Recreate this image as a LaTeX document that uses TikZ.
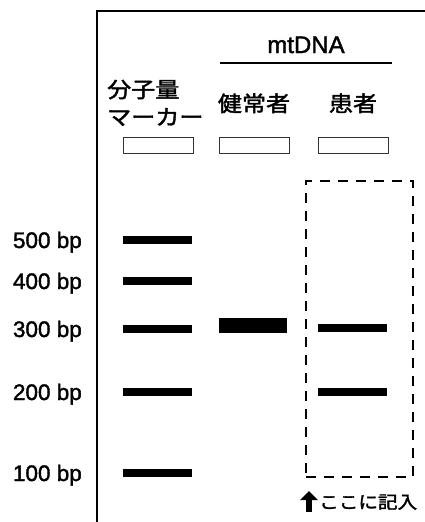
\documentclass[tikz,border=0pt]{standalone}
\usepackage{fontspec}
\setmainfont{Liberation Sans}[BoldFont={Liberation Sans},BoldFeatures={FakeBold=1.6}]
\newfontfamily\jp{Noto Sans CJK JP}[FakeStretch=1.12,BoldFont={Noto Sans CJK JP},BoldFeatures={FakeBold=1.8}]
\usetikzlibrary{arrows.meta}
\begin{document}
\begin{tikzpicture}[x=1pt,y=-1pt,
  lbl/.style={anchor=base east,inner sep=0pt,font=\bfseries\fontsize{22.5}{26}\selectfont},
  jlbl/.style={anchor=base,inner sep=0pt,font=\jp\bfseries\fontsize{21.5}{26}\selectfont},
  well/.style={draw=black!80,line width=1pt,minimum width=70pt,minimum height=16pt,inner sep=0pt,anchor=north west},
  band/.style={fill=black,minimum width=69pt,minimum height=8pt,inner sep=0pt,anchor=west},
  frameline/.style={line width=1.2pt},
]
\useasboundingbox (0,0) rectangle (425,522);
% frame
\coordinate (fb) at (97,522);
\coordinate (ft) at (97,11);
\coordinate (fr) at (425,11);
\draw[frameline] (fb) -- (ft) -- (fr);
% mtDNA header
\node[anchor=base,inner sep=0pt,font=\bfseries\fontsize{24}{28}\selectfont] (mt) at (306,53) {mtDNA};
\coordinate (ul) at (220,63);
\coordinate (ur) at (392,63);
\draw[line width=1.6pt] (ul) -- (ur);
% column headers
\node[jlbl,anchor=base west] (m1) at (107,97.5) {分子量};
\node[jlbl,anchor=base west] (m2) at (107,125) {マーカー};
\node[jlbl] (h) at (254,111.5) {健常者};
\node[jlbl] (p) at (353,111.5) {患者};
% wells
\node[well] (w1) at (123,137) {};
\node[well] (w2) at (219,137) {};
\node[well] (w3) at (318,137) {};
% marker bands and labels
\node[band] (b500) at (123,240) {};
\node[band] (b400) at (123,281) {};
\node[band] (b300) at (123,329) {};
\node[band] (b200) at (123,392) {};
\node[band] (b100) at (123,473) {};
\node[lbl] (l500) at (82,248) {500 bp};
\node[lbl] (l400) at (82,289) {400 bp};
\node[lbl] (l300) at (82,337) {300 bp};
\node[lbl] (l200) at (82,400) {200 bp};
\node[lbl] (l100) at (82,481) {100 bp};
% healthy band
\node[band,minimum width=68pt,minimum height=15pt] (hb) at (219,325.5) {};
% patient bands
\node[band] (pb1) at (318,328) {};
\node[band] (pb2) at (318,392) {};
% answer box
\node[draw,line width=2pt,dash pattern=on 10pt off 8pt,minimum width=107pt,minimum height=296pt,inner sep=0pt,anchor=north west] (ans) at (305,180) {};
% arrow and note
\coordinate (as) at (309,512);
\coordinate (ae) at (309,491);
\draw[line width=6pt,-{Triangle[length=9pt,width=17pt]}] (as) -- (ae);
\node[anchor=base west,inner sep=0pt,font=\jp\bfseries\fontsize{17.5}{20}\selectfont] (note) at (319,508.5) {ここに記入};
\end{tikzpicture}
\end{document}
